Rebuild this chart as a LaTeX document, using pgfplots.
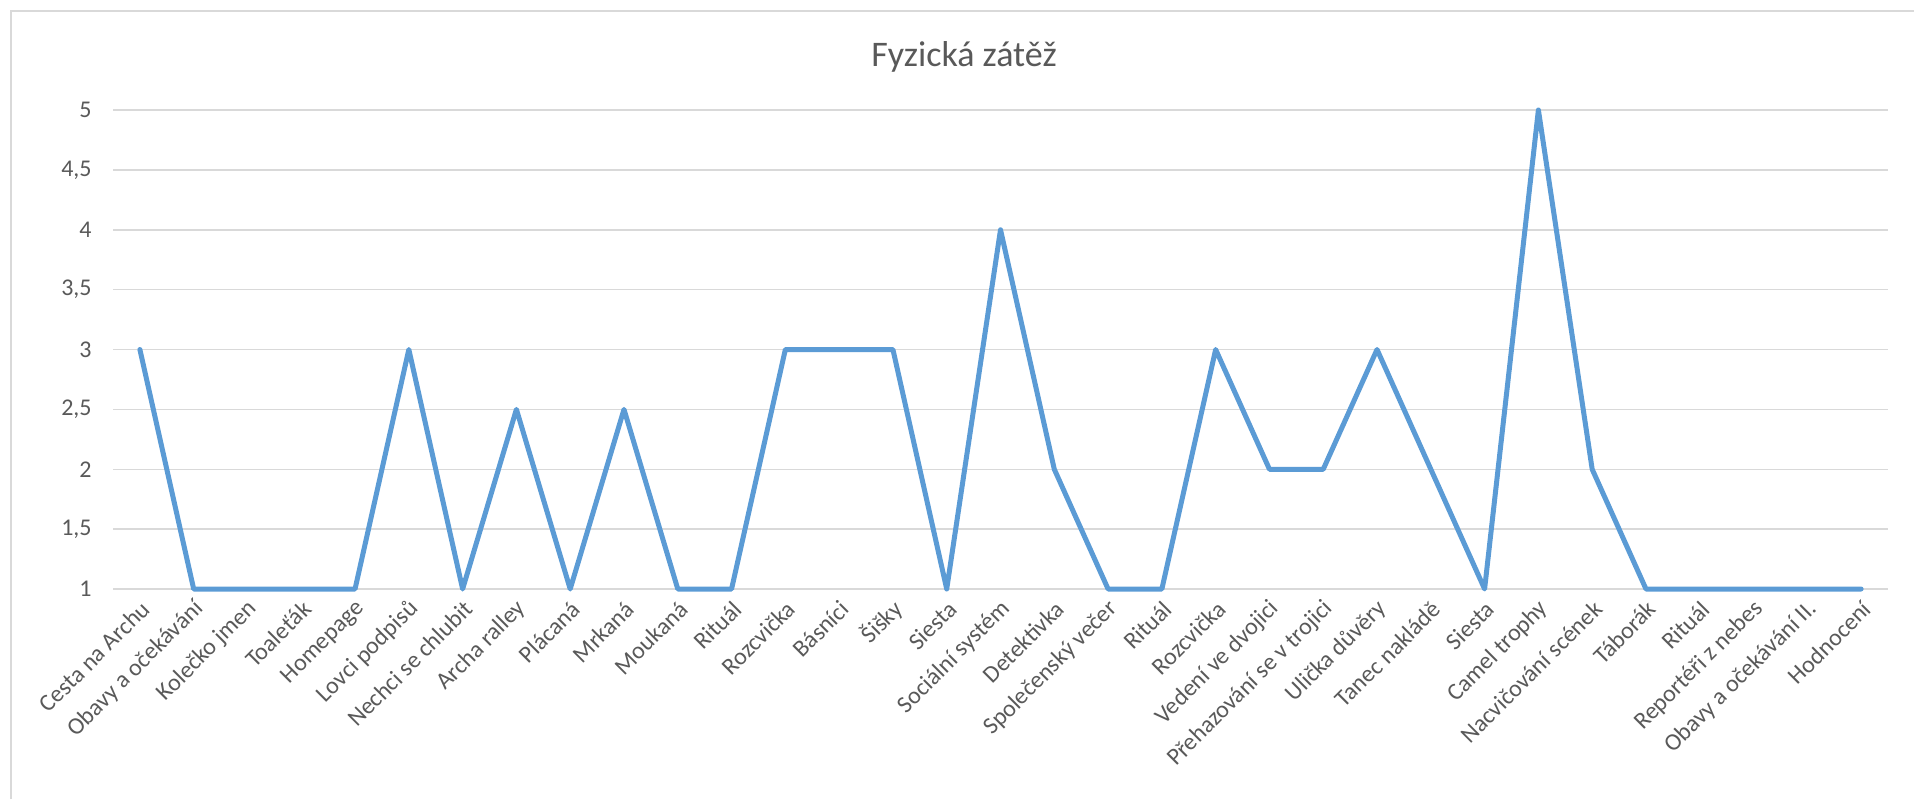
\documentclass[border=0pt]{standalone}
\usepackage{pgfplots}
\pgfplotsset{compat=1.18}
\usepackage{fontspec}
\setmainfont{Carlito}
\definecolor{txt}{HTML}{595959}
\definecolor{grid}{HTML}{D9D9D9}
\definecolor{ser}{HTML}{5B9BD5}
\begin{document}
\begin{tikzpicture}
\useasboundingbox (0,0) rectangle (957pt,399.5pt);
\draw[grid, line width=1pt] (5.5pt,0) -- (5.5pt,394pt) -- (957pt,394pt);
\node[txt, font=\fontsize{18}{20}\selectfont] at (482pt,371pt) {Fyzická zátěž};
\begin{axis}[
  at={(56.5pt,105pt)}, anchor=south west,
  scale only axis, width=887.5pt, height=239.5pt,
  xmin=-0.5, xmax=32.5, ymin=1, ymax=5,
  axis line style={draw=none},
  ytick={1,1.5,2,2.5,3,3.5,4,4.5,5},
  xmajorgrids=false, ymajorgrids=true,
  y grid style={grid, line width=0.75pt},
  major tick length=0pt, tick style={draw=none},
  /pgf/number format/assume math mode=true,
  /pgf/number format/use comma,
  yticklabel style={font=\fontsize{12}{14}\selectfont, text=txt, anchor=east, inner sep=0pt, xshift=-10.5pt},
  xtick={0,...,32},
  xticklabels={Cesta na Archu, Obavy a očekávání, Kolečko jmen, Toaleťák, Homepage, Lovci podpisů, Nechci se chlubit, Archa ralley, Plácaná, Mrkaná, Moukaná, Rituál, Rozcvička, Básníci, Šišky, Siesta, Sociální systém, Detektivka, Společenský večer, Rituál, Rozcvička, Vedení ve dvojici, Přehazování se v trojici, Ulička důvěry, Tanec nakládě, Siesta, Camel trophy, Nacvičování scének, Táborák, Rituál, Reportéři z nebes, Obavy a očekávání II., Hodnocení},
  xticklabel style={font=\fontsize{12}{14}\selectfont, text=txt, inner sep=0pt, xshift=3pt, yshift=-8pt, rotate=45, anchor=east},
  clip=false,
]
\addplot[ser, line width=2.5pt, line join=round, line cap=round] coordinates {
(0,3) (1,1) (2,1) (3,1) (4,1) (5,3) (6,1) (7,2.5) (8,1) (9,2.5) (10,1)
(11,1) (12,3) (13,3) (14,3) (15,1) (16,4) (17,2) (18,1) (19,1) (20,3)
(21,2) (22,2) (23,3) (24,2) (25,1) (26,5) (27,2) (28,1) (29,1) (30,1)
(31,1) (32,1)
};
\end{axis}
\end{tikzpicture}
\end{document}
